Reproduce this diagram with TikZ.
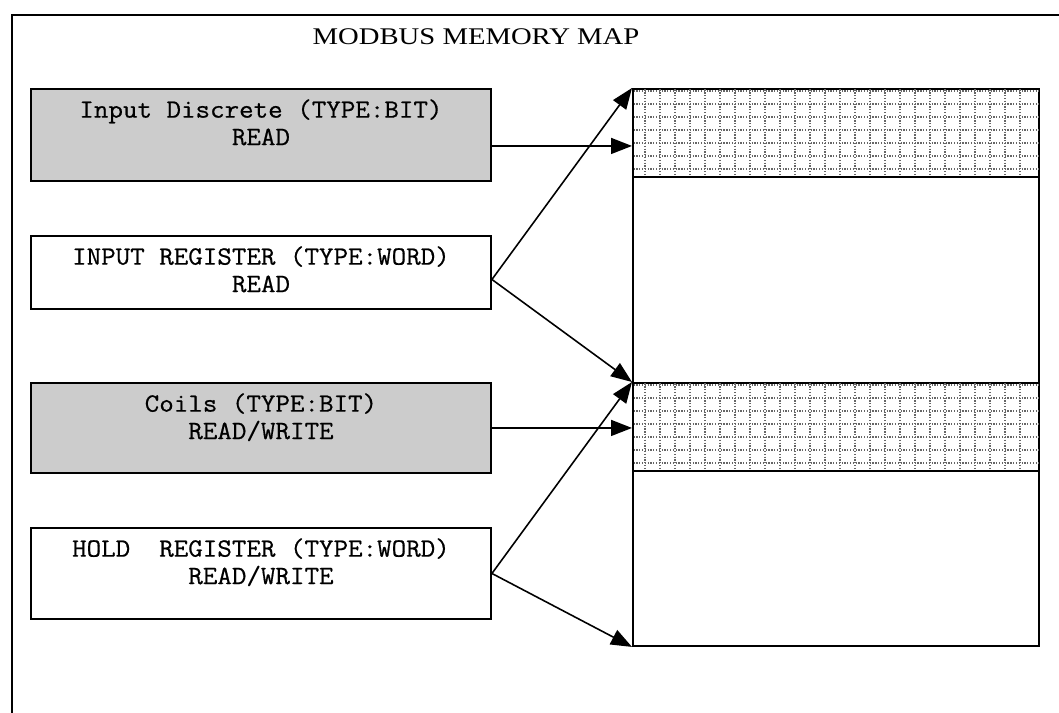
\documentclass[tikz,border=0pt]{standalone}
\usepackage{fontspec}
\setmainfont{Liberation Serif}
\newfontfamily\regfont[FakeBold=0.6,FakeStretch=1.07]{Latin Modern Mono}
\newfontfamily\titlefont[FakeStretch=1.2]{Liberation Serif}
\usetikzlibrary{arrows.meta,positioning,calc}

\definecolor{boxgray}{HTML}{CCCCCC}

\tikzset{
  regbox/.style={draw, line width=1.1pt, minimum width=9.2cm, anchor=north west, inner sep=0pt},
  regtext/.style={align=center, inner sep=0pt, font=\regfont\fontsize{15}{15.6}\selectfont},
  membox/.style={draw, line width=1.1pt, minimum width=8.12cm, anchor=north west, inner sep=0pt},
  hatch/.style={gray!80!black, line width=0.6pt, dash pattern=on 0.7pt off 0.9pt},
  memarrow/.style={-{Triangle[length=0.42cm,width=0.32cm]}, line width=0.9pt},
}

\begin{document}
\begin{tikzpicture}

    \useasboundingbox (0,0) rectangle (21.18,14.26);

    % --- Frame and title ---
    \draw[line width=1.1pt] (0.24,0) -- (0.24,13.96) -- (21.18,13.96);
    \node[anchor=base, inner sep=0pt, font=\titlefont\fontsize{13.6}{16}\selectfont] (title) at (9.52,13.37) {MODBUS MEMORY MAP};

    % --- Register boxes (left column) ---
    \node[regbox, fill=boxgray, minimum height=1.84cm] (di) at (0.6,12.5) {};
    \node[regbox, minimum height=1.46cm] (ir) at (0.6,9.56) {};
    \node[regbox, fill=boxgray, minimum height=1.80cm] (co) at (0.6,6.62) {};
    \node[regbox, minimum height=1.82cm] (hr) at (0.6,3.72) {};

    % Box texts sit near the top edge
    \node[regtext, below=0.22cm of di.north] (ditext) {Input Discrete (TYPE:BIT)\\READ};
    \node[regtext, below=0.22cm of ir.north] (irtext) {INPUT REGISTER (TYPE:WORD)\\READ};
    \node[regtext, below=0.22cm of co.north] (cotext) {Coils (TYPE:BIT)\\READ/WRITE};
    \node[regtext, below=0.22cm of hr.north] (hrtext) {HOLD~~REGISTER (TYPE:WORD)\\READ/WRITE};

    % --- Memory map (right column) ---
    \node[membox, minimum height=11.14cm] (mem) at (12.64,12.5) {};
    \node[membox, minimum height=1.76cm] (bitA) at (12.64,12.5) {};
    \node[membox, minimum height=1.76cm] (bitB) at (12.64,6.62) {};

    % dotted grid inside the bit areas
    \foreach \b in {bitA,bitB} {
        \foreach \x in {0.26,0.56,...,8.0}
            \draw[hatch] ($(\b.north west)+(\x,-0.03)$) -- ($(\b.south west)+(\x,0.03)$);
        \foreach \y in {0.06,0.32,...,1.7}
            \draw[hatch] ($(\b.north west)+(0.03,-\y)$) -- ($(\b.north east)+(-0.03,-\y)$);
    }

    % --- Arrows ---
    \coordinate (diout) at ($(di.east)+(0,-0.22)$);
    \coordinate (irout) at ($(ir.east)+(0,-0.14)$);

    \draw[memarrow] (diout) -- (diout -| mem.west);
    \draw[memarrow] (irout) -- (bitA.north west);
    \draw[memarrow] (irout) -- (bitB.north west);
    \draw[memarrow] (co.east) -- (co.east -| mem.west);
    \draw[memarrow] (hr.east) -- (bitB.north west);
    \draw[memarrow] (hr.east) -- (mem.south west);

\end{tikzpicture}
\end{document}
